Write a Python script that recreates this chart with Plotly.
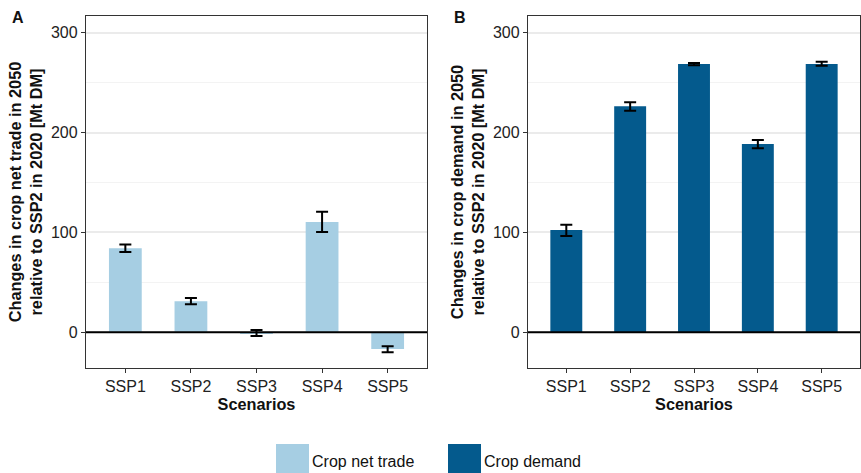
import plotly.graph_objects as go
from plotly.subplots import make_subplots

scenarios = ["SSP1", "SSP2", "SSP3", "SSP4", "SSP5"]
trade_vals = [84.2, 31.2, -0.7, 110.5, -16.7]
trade_lo = [80.4, 28.0, -3.7, 100.4, -20.0]
trade_hi = [88.0, 34.3, 2.3, 120.7, -14.0]
demand_vals = [102.4, 226.3, 268.6, 188.4, 268.6]
demand_lo = [96.4, 221.8, 267.3, 184.2, 266.9]
demand_hi = [107.7, 230.2, 269.6, 192.5, 270.9]

C_TRADE = "#A6CEE3"
C_DEMAND = "#045A8D"
W, H = 861, 473
FONT = "Liberation Sans, Arial, sans-serif"

fig = make_subplots(rows=1, cols=2)

def err(vals, lo, hi):
    return dict(type="data", symmetric=False,
                array=[h - v for h, v in zip(hi, vals)],
                arrayminus=[v - l for v, l in zip(vals, lo)],
                color="black", thickness=2, width=6)

fig.add_trace(go.Bar(x=scenarios, y=trade_vals, marker_color=C_TRADE, marker_line_width=0,
                     error_y=err(trade_vals, trade_lo, trade_hi), showlegend=False), row=1, col=1)
fig.add_trace(go.Bar(x=scenarios, y=demand_vals, marker_color=C_DEMAND, marker_line_width=0,
                     error_y=err(demand_vals, demand_lo, demand_hi), showlegend=False), row=1, col=2)

def px_x(p):
    return p / W

def px_y(p):
    return (H - p) / H

TICKF = dict(size=16, color="#222222", family=FONT)
TITLEF = dict(size=16.3, color="#111111", family=FONT)

common_y = dict(range=[-35.7, 316.6], tickvals=[0, 100, 200, 300], showgrid=True,
                gridcolor="#EBEBEB", gridwidth=1.5,
                minor=dict(tickvals=[50, 150, 250], showgrid=True, gridcolor="#F3F3F3", gridwidth=1, ticks=""),
                zeroline=False, showline=True, linecolor="#333333", linewidth=1.3, mirror=True,
                ticks="outside", ticklen=4, tickcolor="#333333", tickwidth=1.3,
                tickfont=TICKF, domain=[px_y(368), px_y(16)])
common_x = dict(range=[-0.6, 4.6], showgrid=False, zeroline=False, showline=True,
                linecolor="#333333", linewidth=1.3, mirror=True,
                ticks="outside", ticklen=4, tickcolor="#333333", tickwidth=1.3,
                tickfont=TICKF,
                title=dict(text="<b>Scenarios</b>", font=TITLEF, standoff=2))

fig.update_xaxes(**common_x, domain=[px_x(86), px_x(427)], row=1, col=1)
fig.update_xaxes(**common_x, domain=[px_x(528), px_x(860)], row=1, col=2)
fig.update_yaxes(**common_y, title=dict(text="<b>Changes in crop net trade in 2050<br>relative to SSP2 in 2020 [Mt DM]</b>",
                                        font=TITLEF, standoff=4), row=1, col=1)
fig.update_yaxes(**common_y, title=dict(text="<b>Changes in crop demand in 2050<br>relative to SSP2 in 2020 [Mt DM]</b>",
                                        font=TITLEF, standoff=4), row=1, col=2)

# zero reference lines
for xr, yr in (("x", "y"), ("x2", "y2")):
    fig.add_shape(type="line", xref=xr + " domain", yref=yr, x0=0, x1=1, y0=0, y1=0,
                  line=dict(color="black", width=2), layer="above")

# legend (manual)
shapes_leg = [(276, 309, C_TRADE), (448, 481, C_DEMAND)]
for x0, x1, c in shapes_leg:
    fig.add_shape(type="rect", xref="paper", yref="paper", x0=px_x(x0), x1=px_x(x1),
                  y0=px_y(473), y1=px_y(444), fillcolor=c, line_width=0)
for xt, t in ((310, "Crop net trade"), (482, "Crop demand")):
    fig.add_annotation(xref="paper", yref="paper", x=px_x(xt), y=px_y(461.5), text=t,
                       showarrow=False, xanchor="left", yanchor="middle",
                       font=dict(size=16, color="#111111", family=FONT))

for xt, t in ((18, "A"), (460, "B")):
    fig.add_annotation(xref="paper", yref="paper", x=px_x(xt), y=px_y(18), text="<b>%s</b>" % t,
                       showarrow=False, xanchor="center", yanchor="middle",
                       font=dict(size=16, color="#111111", family=FONT))

fig.update_layout(width=W, height=H, margin=dict(l=0, r=0, t=0, b=0),
                  paper_bgcolor="white", plot_bgcolor="white", bargap=0.5,
                  font=dict(family=FONT), showlegend=False)

fig.write_html("out.html")
